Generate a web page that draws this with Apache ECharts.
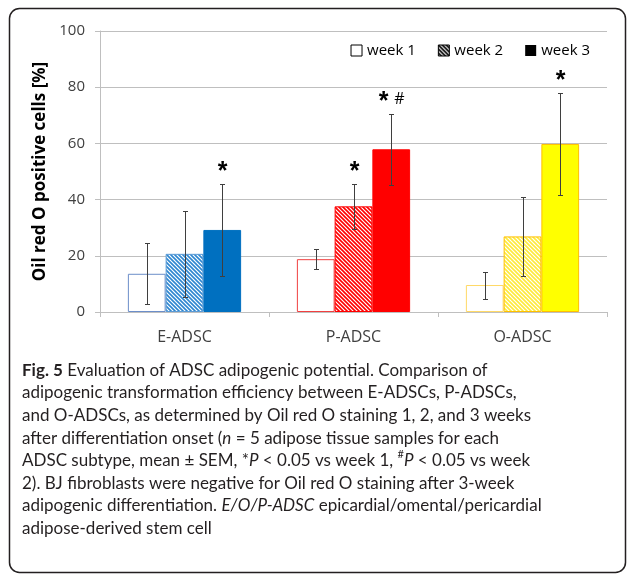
<!DOCTYPE html>
<html>
<head>
<meta charset="utf-8">
<script src="https://cdn.jsdelivr.net/npm/echarts@6/dist/echarts.min.js"></script>
<style>
  html, body { margin: 0; padding: 0; background: #fff; }
  #chart { width: 627px; height: 576px; }
</style>
</head>
<body>
<div id="chart"></div>
<script>
const categories = ['E-ADSC', 'P-ADSC', 'O-ADSC'];
const weeks = ['week 1', 'week 2', 'week 3'];

const week1Mean = [13.6, 18.8, 9.6];
const week1Sem  = [10.9, 3.5, 4.8];
const week2Mean = [20.7, 37.6, 26.9];
const week2Sem  = [15.3, 8.0, 14.0];
const week3Mean = [29.2, 57.9, 59.8];
const week3Sem  = [16.4, 12.7, 18.3];

// significance marks above the error bars
const week1Marks = ['', '', ''];
const week2Marks = ['', '*', ''];
const week3Marks = ['*', '*#', '*'];

const yTicks = [0, 20, 40, 60, 80, 100];

const fillColors   = ['#0070C0', '#FF0000', '#FFFF00'];
const hatchColors  = ['#2E86D0', '#FF0000', '#FFEA3A'];
const week1Borders = ['#6C8EC9', '#F04040', '#FFD966'];
const week2Borders = ['#5C9BD5', '#FF0000', '#FFC000'];
const week3Borders = ['#0070C0', '#FF0000', '#FFC000'];

const BAR_GAP = 0.33;

function hatch(color) {
  const c = document.createElement('canvas');
  c.width = 4; c.height = 4;
  const g = c.getContext('2d');
  g.fillStyle = '#fff';
  g.fillRect(0, 0, 4, 4);
  g.strokeStyle = color;
  g.lineWidth = 1.6;
  g.beginPath();
  g.moveTo(-1, -1); g.lineTo(5, 5);
  g.moveTo(-1, 3); g.lineTo(1, 5);
  g.moveTo(3, -1); g.lineTo(5, 1);
  g.stroke();
  return { image: c, repeat: 'repeat' };
}

const means = [week1Mean, week2Mean, week3Mean];
const sems = [week1Sem, week2Sem, week3Sem];
const marks = [week1Marks, week2Marks, week3Marks];

const errRows = [];
const errMarks = [];
for (let w = 0; w < 3; w++) {
  for (let c = 0; c < 3; c++) {
    errRows.push([c, w, means[w][c], sems[w][c]]);
    errMarks.push(marks[w][c]);
  }
}

const barSeries = [
  {
    name: weeks[0], type: 'bar', barGap: 0, barCategoryGap: BAR_GAP * 100 + '%',
    itemStyle: { color: '#fff', borderColor: '#000', borderWidth: 1 },
    data: week1Mean.map((v, i) => ({ value: v, itemStyle: { color: '#fff', borderColor: week1Borders[i], borderWidth: 1 } }))
  },
  {
    name: weeks[1], type: 'bar', barGap: 0, barCategoryGap: BAR_GAP * 100 + '%',
    itemStyle: { color: hatch('#000'), borderColor: '#000', borderWidth: 1 },
    data: week2Mean.map((v, i) => ({ value: v, itemStyle: { color: hatch(hatchColors[i]), borderColor: week2Borders[i], borderWidth: 1 } }))
  },
  {
    name: weeks[2], type: 'bar', barGap: 0, barCategoryGap: BAR_GAP * 100 + '%',
    itemStyle: { color: '#000' },
    data: week3Mean.map((v, i) => ({ value: v, itemStyle: { color: fillColors[i], borderColor: week3Borders[i], borderWidth: 1 } }))
  }
];

const errorSeries = {
  type: 'custom',
  z: 5,
  silent: true,
  data: errRows,
  encode: { x: 0, y: 2 },
  renderItem(params, api) {
    const cat = api.value(0), wk = api.value(1), mean = api.value(2), sem = api.value(3);
    const band = api.size([1, 0])[0];
    const bw = band * (1 - BAR_GAP) / 3;
    const x = Math.round(api.coord([cat, 0])[0] + (wk - 1) * bw) + 0.5;
    const top = Math.round(api.coord([cat, mean + sem])[1]) + 0.5;
    const bot = Math.round(api.coord([cat, mean - sem])[1]) + 0.5;
    const st = { stroke: '#3F3F3F', lineWidth: 1 };
    const children = [
      { type: 'line', shape: { x1: x, y1: top, x2: x, y2: bot }, style: st },
      { type: 'line', shape: { x1: x - 2.5, y1: top, x2: x + 2.5, y2: top }, style: st },
      { type: 'line', shape: { x1: x - 2.5, y1: bot, x2: x + 2.5, y2: bot }, style: st }
    ];
    const m = errMarks[params.dataIndex];
    if (m) {
      const hasHash = m.indexOf('#') >= 0;
      children.push({
        type: 'text',
        style: {
          x: hasHash ? x - 8 : x, y: top - 12, text: '*', align: 'center', verticalAlign: 'middle',
          fontSize: 25, fontWeight: 'bold', fontFamily: 'Liberation Sans', fill: '#000'
        }
      });
      if (hasHash) {
        children.push({
          type: 'text',
          style: {
            x: x + 8, y: top - 15, text: '#', align: 'center', verticalAlign: 'middle',
            fontSize: 16, fontFamily: 'Open Sans', fill: '#000'
          }
        });
      }
    }
    return { type: 'group', children };
  }
};

const caption = [
  '{b|Fig. 5} Evaluation of ADSC adipogenic potential. Comparison of',
  'adipogenic transformation efficiency between E-ADSCs, P-ADSCs,',
  'and O-ADSCs, as determined by Oil red O staining 1, 2, and 3 weeks',
  'after differentiation onset ({i|n} = 5 adipose tissue samples for each',
  'ADSC subtype, mean ± SEM, *{i|P} < 0.05 vs week 1, {sup|#}{i|P} < 0.05 vs week',
  '2). BJ fibroblasts were negative for Oil red O staining after 3-week',
  'adipogenic differentiation. {i|E/O/P-ADSC} epicardial/omental/pericardial',
  'adipose-derived stem cell'
];

const capFont = 'Lato';
const capSize = 17;
const capLine = 22.6;

const chart = echarts.init(document.getElementById('chart'));
chart.setOption({
  backgroundColor: '#fff',
  animation: false,
  textStyle: { fontFamily: 'Open Sans' },
  grid: { left: 100, right: 20, top: 31, bottom: 264 },
  legend: {
    data: [
      { name: weeks[0], itemStyle: { color: '#fff', borderColor: '#000', borderWidth: 1 } },
      { name: weeks[1], itemStyle: { color: hatch('#000'), borderColor: '#000', borderWidth: 1 } },
      { name: weeks[2], itemStyle: { color: '#000' } }
    ],
    right: 32, top: 38,
    icon: 'rect', itemWidth: 11, itemHeight: 11, itemGap: 22,
    textStyle: { fontSize: 15, color: '#000', fontFamily: 'Open Sans' }
  },
  xAxis: {
    type: 'category',
    data: categories,
    axisLine: { lineStyle: { color: '#BFBFBF' } },
    axisTick: { show: true, length: 5, lineStyle: { color: '#BFBFBF' } },
    axisLabel: { fontSize: 16, color: '#404040', margin: 17 }
  },
  yAxis: {
    type: 'value',
    min: yTicks[0], max: yTicks[yTicks.length - 1], interval: 20,
    name: 'Oil red O positive cells [%]',
    nameLocation: 'middle', nameGap: 37,
    nameTextStyle: { fontSize: 17, fontWeight: 'bold', color: '#000', fontFamily: 'Open Sans' },
    axisLine: { show: true, lineStyle: { color: '#BFBFBF' } },
    axisTick: { show: true, length: 5, lineStyle: { color: '#BFBFBF' } },
    axisLabel: { fontSize: 15, color: '#404040', margin: 15 },
    splitLine: { lineStyle: { color: '#BFBFBF' } }
  },
  series: [...barSeries, errorSeries],
  graphic: [
    {
      type: 'rect', silent: true,
      shape: { x: 9.5, y: 8.5, width: 616, height: 564, r: 10 },
      style: { fill: 'none', stroke: '#231F20', lineWidth: 1.5 }
    },
    {
      type: 'text', left: 22, top: 359, silent: true,
      style: {
        text: caption.join('\n'),
        fontSize: capSize, fontFamily: capFont, fill: '#231F20', lineHeight: capLine,
        rich: {
          b: { fontSize: capSize, fontFamily: capFont, fontWeight: 'bold', fill: '#231F20', lineHeight: capLine },
          i: { fontSize: capSize, fontFamily: capFont, fontStyle: 'italic', fill: '#231F20', lineHeight: capLine },
          sup: { fontSize: 11, fontFamily: capFont, fill: '#231F20', verticalAlign: 'top', lineHeight: capLine }
        }
      }
    }
  ]
});
</script>
</body>
</html>
